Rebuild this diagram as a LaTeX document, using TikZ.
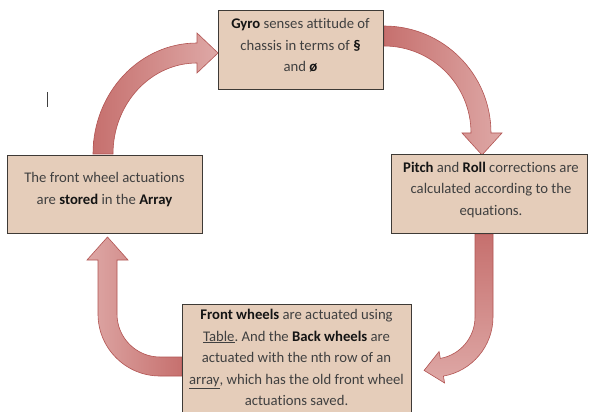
\documentclass[tikz,border=0pt]{standalone}
\usepackage{fontspec}
\setmainfont[Ligatures=NoCommon]{Carlito}
\frenchspacing
\definecolor{adark}{RGB}{198,112,110}
\definecolor{alight}{RGB}{222,168,166}
\definecolor{aborder}{RGB}{178,84,82}
\definecolor{boxfill}{RGB}{229,205,186}
\definecolor{boxline}{RGB}{62,58,54}
\definecolor{txtcol}{RGB}{64,64,64}
\newcommand{\hb}[1]{\textbf{\color{black!92}#1}}
\begin{document}
\begin{tikzpicture}[x=1pt,y=-1pt,
  boxnode/.style={draw=boxline, line width=0.9pt, fill=boxfill, inner sep=0pt, outer sep=0pt},
  txtnode/.style={align=center, inner sep=0pt, text=txtcol, font=\fontsize{14.7}{21.5}\selectfont},
  curvedarrow/.style={draw=aborder, line width=0.6pt, line join=miter}]
\useasboundingbox (0,0) rectangle (590,412);
\fill[white] (0,0) rectangle (590,412);
\clip (0,0) rectangle (590,412);

% arrows
\path[curvedarrow, left color=adark, right color=alight]
  (93,154) arc[start angle=180, end angle=270, x radius=104, y radius=111]
  -- (197,33) -- (218,53) -- (197,73) -- (197,63)
  arc[start angle=270, end angle=180, x radius=84, y radius=91] -- cycle;
\path[curvedarrow, left color=adark, right color=alight]
  (384,26) arc[start angle=270, end angle=360, radius=107]
  -- (502,133) -- (482,155) -- (462,133) -- (471,133)
  arc[start angle=360, end angle=270, radius=87] -- cycle;
\path[curvedarrow, top color=adark, bottom color=alight]
  (475,234) -- (493,234) -- (493,317)
  arc[start angle=0, end angle=80, radius=60]
  -- (444.6,383.0) -- (424.1,370.4) -- (439.1,351.5) -- (440.3,358.4)
  arc[start angle=80, end angle=0, radius=42] -- cycle;
\path[curvedarrow, left color=alight, right color=adark]
  (182,357) -- (182,376) -- (160,376)
  arc[start angle=90, end angle=180, radius=62]
  -- (98,260) -- (87,260) -- (107.5,237) -- (128,260) -- (117,260) -- (117,314)
  arc[start angle=180, end angle=90, radius=43] -- cycle;

% boxes
\node[boxnode, minimum width=165, minimum height=79] (gyro) at (300.5,49.5) {};
\node[boxnode, minimum width=196, minimum height=79] (pitch) at (489.5,193.5) {};
\node[boxnode, minimum width=195, minimum height=78] (store) at (104.5,194) {};
\node[boxnode, minimum width=229, minimum height=130] (front) at (296.5,369) {};

% texts
\node[txtnode] (gyrot) at (300.5,45.5) {\hb{Gyro} senses attitude of\\chassis in terms of \hb{§}\\and \hb{ø}};
\node[txtnode] (pitcht) at (491,190) {\hb{Pitch} and \hb{Roll} corrections are\\calculated according to the\\equations.};
\node[txtnode] (storet) at (104.5,189.5) {The front wheel actuations\\are \hb{stored} in the \hb{Array}};
\node[txtnode] (frontt) at (296.5,357.5) {\hb{Front wheels} are actuated using\\\underline{Table}. And the \hb{Back wheels} are\\actuated with the nth row of an\\\underline{array}, which has the old front wheel\\actuations saved.};

% text cursor
\coordinate (curtop) at (47.5,92);
\coordinate (curbot) at (47.5,107);
\draw[line width=1.1pt, black!75] (curtop) -- (curbot);
\end{tikzpicture}
\end{document}
